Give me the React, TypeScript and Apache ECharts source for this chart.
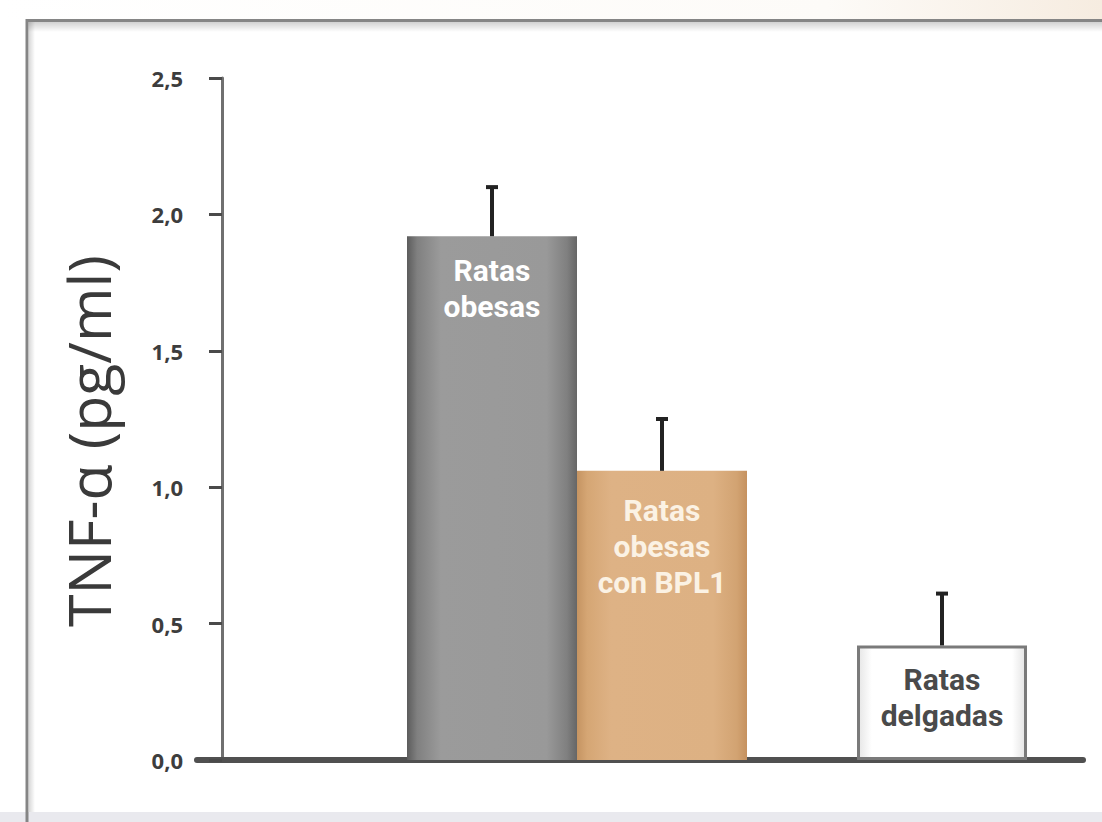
import React, { useEffect, useRef } from "react";
import * as echarts from "echarts";

// ---- data ----
const categories = ["Ratas\nobesas", "Ratas\nobesas\ncon BPL1", "Ratas\ndelgadas"];
const barPositions = [27, 44, 72]; // position of each group on the (hidden) horizontal value axis
const values = [1.92, 1.06, 0.42];
const errors = [0.18, 0.19, 0.19];
const yTickValues = [0, 0.5, 1.0, 1.5, 2.0, 2.5];
const yTickLabels = ["0,0", "0,5", "1,0", "1,5", "2,0", "2,5"];
const yAxisTitle = "TNF-α (pg/ml)";

const FONT = "'Open Sans', 'Noto Sans', sans-serif";
const LABEL_FONT = "Roboto, 'Open Sans', sans-serif";

const hGrad = (stops: [number, string][]) =>
  new echarts.graphic.LinearGradient(0, 0, 1, 0, stops.map(([offset, color]) => ({ offset, color })));

const barStyles = [
  {
    color: hGrad([
      [0, "#5c5c5c"],
      [0.06, "#808080"],
      [0.2, "#9b9b9b"],
      [0.82, "#999999"],
      [0.94, "#808080"],
      [1, "#666666"],
    ]),
    borderWidth: 0,
  },
  {
    color: hGrad([
      [0, "#c59462"],
      [0.06, "#d5a674"],
      [0.2, "#deb285"],
      [0.8, "#ddb183"],
      [0.94, "#d2a372"],
      [1, "#c5915f"],
    ]),
    borderWidth: 0,
  },
  {
    color: hGrad([
      [0, "#e6e6e6"],
      [0.08, "#ffffff"],
      [0.92, "#ffffff"],
      [1, "#e4e4e4"],
    ]),
    borderColor: "#7a7a7a",
    borderWidth: 3,
  },
];
const labelColors = ["#ffffff", "#fbf2e4", "#4a4a4a"];
const labelDistances = [16, 22, 16];

export default function App() {
  const ref = useRef<HTMLDivElement>(null);

  useEffect(() => {
    if (!ref.current) return;
    const chart = echarts.init(ref.current, null, { renderer: "svg" });

    const barData = values.map((v, i) => ({
      value: [barPositions[i], v],
      name: categories[i],
      itemStyle: barStyles[i],
      label: {
        show: true,
        position: "insideTop",
        distance: labelDistances[i],
        formatter: categories[i],
        color: labelColors[i],
        fontFamily: LABEL_FONT,
        fontWeight: "bold",
        fontSize: 30,
        lineHeight: 36,
        align: "center",
      },
    }));

    const errData = values.map((v, i) => [barPositions[i], v, errors[i]]);

    chart.setOption({
      animation: false,
      backgroundColor: "#ffffff",
      graphic: [
        {
          type: "rect",
          z: -10,
          shape: { x: 0, y: 0, width: 1102, height: 20 },
          style: {
            fill: new echarts.graphic.LinearGradient(0, 0, 1, 0, [
              { offset: 0, color: "#ffffff" },
              { offset: 0.75, color: "#fdfbf8" },
              { offset: 1, color: "#f6ece0" },
            ]),
          },
        },
        {
          type: "rect",
          z: -10,
          shape: { x: 0, y: 812, width: 1102, height: 10 },
          style: { fill: "#e9e9ee" },
        },
        {
          type: "rect",
          z: -9,
          shape: { x: 28, y: 22, width: 1080, height: 10 },
          style: {
            fill: new echarts.graphic.LinearGradient(0, 0, 0, 1, [
              { offset: 0, color: "rgba(0,0,0,0.18)" },
              { offset: 1, color: "rgba(0,0,0,0)" },
            ]),
          },
        },
        {
          type: "rect",
          z: -9,
          shape: { x: 29, y: 22, width: 6, height: 790 },
          style: {
            fill: new echarts.graphic.LinearGradient(0, 0, 1, 0, [
              { offset: 0, color: "rgba(0,0,0,0.15)" },
              { offset: 1, color: "rgba(0,0,0,0)" },
            ]),
          },
        },
        {
          type: "polyline",
          z: -8,
          shape: { points: [[27, 822], [27, 20.5], [1102, 20.5]] },
          style: { stroke: "#858585", lineWidth: 3, fill: null },
        },
        {
          type: "text",
          x: 88,
          y: 441,
          rotation: Math.PI / 2,
          style: {
            text: yAxisTitle,
            fontFamily: FONT,
            fontSize: 59,
            fill: "#3a3a3a",
            align: "center",
            verticalAlign: "middle",
          },
        },
      ],
      grid: { left: 197, right: 19, top: 78, bottom: 62 },
      xAxis: {
        type: "value",
        min: -2.5,
        max: 86.1,
        axisLine: {
          show: true,
          onZero: false,
          lineStyle: { color: "#505050", width: 6 },
        },
        axisTick: { show: false },
        axisLabel: { show: false },
        splitLine: { show: false },
      },
      yAxis: {
        type: "value",
        min: 0,
        max: 2.5,
        interval: 0.5,
        axisLine: {
          show: true,
          onZero: true,
          lineStyle: { color: "#707070", width: 3 },
        },
        axisTick: {
          show: true,
          inside: false,
          length: 13,
          lineStyle: { color: "#4a4a4a", width: 3 },
        },
        axisLabel: {
          margin: 14,
          color: "#3d3d3d",
          fontFamily: FONT,
          fontWeight: "bold",
          fontSize: 22,
          formatter: (v: number) => {
            const idx = yTickValues.findIndex((t) => Math.abs(t - v) < 1e-6);
            return idx >= 0 ? yTickLabels[idx] : "";
          },
        },
        splitLine: { show: false },
      },
      series: [
        {
          type: "bar",
          data: barData,
          barWidth: 170,
          z: 2,
        },
        {
          type: "custom",
          z: 3,
          data: errData,
          renderItem: (_params: any, api: any) => {
            const x = api.value(0);
            const y = api.value(1);
            const e = api.value(2);
            const p0 = api.coord([x, y]);
            const p1 = api.coord([x, y + e]);
            return {
              type: "group",
              children: [
                {
                  type: "line",
                  shape: { x1: p0[0], y1: p0[1], x2: p1[0], y2: p1[1] },
                  style: { stroke: "#222222", lineWidth: 4 },
                },
                {
                  type: "line",
                  shape: { x1: p1[0] - 6, y1: p1[1], x2: p1[0] + 6, y2: p1[1] },
                  style: { stroke: "#222222", lineWidth: 4 },
                },
              ],
            };
          },
        },
      ],
    });

    return () => chart.dispose();
  }, []);

  return (
    <div
      ref={ref}
      style={{ position: "absolute", left: 0, top: 0, width: 1102, height: 822 }}
    />
  );
}
